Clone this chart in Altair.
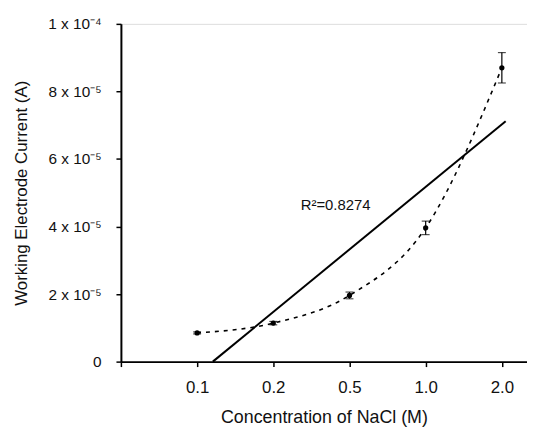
import altair as alt
import pandas as pd
import numpy as np

categories = ["0.1", "0.2", "0.5", "1.0", "2.0"]
positions = [1, 2, 3, 4, 5]
current = [0.85e-5, 1.14e-5, 1.96e-5, 3.96e-5, 8.70e-5]
error = [0.03e-5, 0.05e-5, 0.10e-5, 0.20e-5, 0.45e-5]
r2_text = ["R²=0.8274"]

df = pd.DataFrame({"x": positions, "y": current, "err": error, "cat": categories})
df["lo"] = df["y"] - df["err"]
df["hi"] = df["y"] + df["err"]

slope, intercept = np.polyfit(positions, current, 1)
x_start = -intercept / slope
x_end = 5.05
fit = pd.DataFrame({"x": [x_start, x_end], "y": [slope * x_start + intercept, slope * x_end + intercept]})

label_df = pd.DataFrame({"x": [2.36], "y": [4.63e-5], "t": r2_text})

font = "Liberation Sans"
x_label_expr = "[''," + ",".join("'%s'" % c for c in categories) + "][round(datum.value)]"
y_label_expr = ("datum.value == 0 ? '0' : (datum.value > 9.9e-5 ? '1 x 10⁻⁴' : "
                "(round(datum.value*1e5) % 2 == 0 ? round(datum.value*1e5) + ' x 10⁻⁵' : ''))")

xscale = alt.Scale(domain=[0, 5.33], nice=False, zero=False)
yscale = alt.Scale(domain=[0, 1e-4], nice=False)

xaxis = alt.Axis(values=[0, 1, 2, 3, 4, 5], labelExpr=x_label_expr, title="Concentration of NaCl (M)",
                 grid=False, domainColor="black", domainWidth=2, tickColor="black", tickWidth=1.5,
                 tickSize=5, labelPadding=13, labelFontSize=17, labelFont=font, labelColor="#111",
                 titleFont=font, titleFontSize=18, titleFontWeight="normal", titleColor="#111",
                 titlePadding=13)
yaxis = alt.Axis(values=[i * 1e-5 for i in range(11)], labelExpr=y_label_expr,
                 title="Working Electrode Current (A)",
                 grid=False, domainColor="black", domainWidth=2, tickColor="black", tickWidth=1.5,
                 tickSize=5, labelPadding=15, labelFontSize=15.5, labelFont=font, labelColor="#111",
                 titleFont=font, titleFontSize=17, titleFontWeight="normal", titleColor="#111",
                 titlePadding=17)

base = alt.Chart(df)

curve = base.mark_line(color="black", strokeDash=[4, 5], strokeWidth=1.6, interpolate="monotone").encode(
    x=alt.X("x:Q", scale=xscale, axis=xaxis),
    y=alt.Y("y:Q", scale=yscale, axis=yaxis),
)
pts = base.mark_point(filled=True, color="black", size=28, opacity=1).encode(
    x=alt.X("x:Q", scale=xscale), y=alt.Y("y:Q", scale=yscale))
bars = base.mark_rule(color="black", strokeWidth=1.2).encode(
    x=alt.X("x:Q", scale=xscale), y=alt.Y("lo:Q", scale=yscale), y2="hi:Q")
caps_hi = base.mark_tick(color="black", orient="horizontal", size=8, thickness=1.2).encode(
    x=alt.X("x:Q", scale=xscale), y=alt.Y("hi:Q", scale=yscale))
caps_lo = base.mark_tick(color="black", orient="horizontal", size=8, thickness=1.2).encode(
    x=alt.X("x:Q", scale=xscale), y=alt.Y("lo:Q", scale=yscale))
fitline = alt.Chart(fit).mark_line(color="black", strokeWidth=2).encode(
    x=alt.X("x:Q", scale=xscale), y=alt.Y("y:Q", scale=yscale))
txt = alt.Chart(label_df).mark_text(align="left", baseline="middle", font=font, fontSize=15, color="#111").encode(
    x=alt.X("x:Q", scale=xscale), y=alt.Y("y:Q", scale=yscale), text="t:N")

chart = alt.layer(curve, fitline, bars, caps_hi, caps_lo, pts, txt).properties(
    width=410, height=341,
    autosize=alt.AutoSizeParams(type="none"),
    padding={"left": 114, "top": 14, "right": 0, "bottom": 66},
).configure_view(stroke=None).configure(background="white")

chart.save("out.html", embed_options={"renderer": "svg", "actions": False})
